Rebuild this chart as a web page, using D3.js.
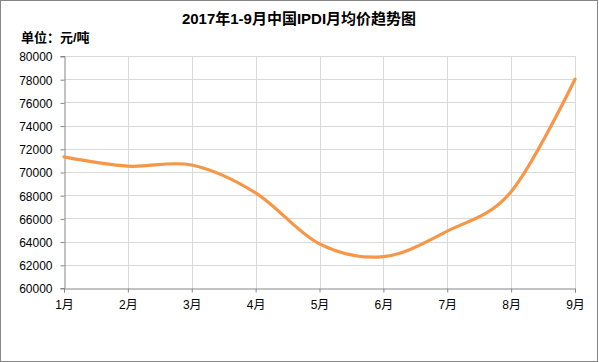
<!DOCTYPE html>
<html>
<head>
<meta charset="utf-8">
<script src="https://cdn.jsdelivr.net/npm/d3@7"></script>
<style>
  html, body { margin: 0; padding: 0; background: #fff; }
  svg { display: block; }
  text { font-family: "Liberation Sans", Arial, "Noto Sans CJK SC", sans-serif; }
</style>
</head>
<body>
<svg id="chart" width="599" height="362"></svg>
<script>
const titleText = "2017年1-9月中国IPDI月均价趋势图";
const unitText = "单位：元/吨";
const months = ["1月", "2月", "3月", "4月", "5月", "6月", "7月", "8月", "9月"];
const prices = [71300, 70500, 70600, 68200, 63800, 62700, 64900, 68300, 78000];
const yTicks = [60000, 62000, 64000, 66000, 68000, 70000, 72000, 74000, 76000, 78000, 80000];

const svg = d3.select("#chart");
const W = 599, H = 362;
const m = { left: 64, right: 24, top: 56, bottom: 74 };

svg.append("rect").attr("x", 0.5).attr("y", 0.5).attr("width", W - 2).attr("height", H - 1)
  .attr("fill", "#fff").attr("stroke", "#868686").attr("stroke-width", 1);

const x = d3.scalePoint().domain(months).range([m.left, W - m.right]);
const y = d3.scaleLinear().domain([60000, 80000]).range([H - m.bottom, m.top]);

// gridlines
svg.append("g").selectAll("line.h").data(yTicks.filter(d => d > 60000)).join("line")
  .attr("x1", m.left).attr("x2", W - m.right)
  .attr("y1", d => Math.round(y(d)) + 0.5).attr("y2", d => Math.round(y(d)) + 0.5)
  .attr("stroke", "#d9d9d9").attr("stroke-width", 1);
svg.append("g").selectAll("line.v").data(months.slice(1)).join("line")
  .attr("x1", d => Math.round(x(d)) + 0.5).attr("x2", d => Math.round(x(d)) + 0.5)
  .attr("y1", m.top).attr("y2", H - m.bottom)
  .attr("stroke", "#d9d9d9").attr("stroke-width", 1);

// axes
const yAxis = svg.append("g").attr("transform", `translate(${m.left + 0.5},0)`)
  .call(d3.axisLeft(y).tickValues(yTicks).tickSize(4).tickPadding(8).tickFormat(d3.format("d")));
const xAxis = svg.append("g").attr("transform", `translate(0,${Math.round(y(60000)) + 0.5})`)
  .call(d3.axisBottom(x).tickSize(4).tickPadding(8));
[yAxis, xAxis].forEach(g => {
  g.select(".domain").attr("stroke", "#868686");
  g.selectAll(".tick line").attr("stroke", "#868686");
  g.selectAll(".tick text").attr("fill", "#000").style("font-size", "12px");
});
yAxis.selectAll(".tick line").attr("transform", "translate(0,0.5)");
yAxis.selectAll(".tick text").attr("dy", "0.4em");

// line
const line = d3.line().x((d, i) => x(months[i])).y(d => y(d)).curve(d3.curveCardinal.tension(0));
svg.append("path").datum(prices).attr("d", line)
  .attr("fill", "none").attr("stroke", "#F79646").attr("stroke-width", 3.2)
  .attr("stroke-linecap", "round");

// titles
svg.append("text").attr("x", 299).attr("y", 24).attr("text-anchor", "middle")
  .style("font-size", "15px").style("font-weight", "bold").text(titleText);
svg.append("text").attr("x", 21).attr("y", 42)
  .style("font-size", "13px").style("font-weight", "bold").text(unitText);
</script>
</body>
</html>
